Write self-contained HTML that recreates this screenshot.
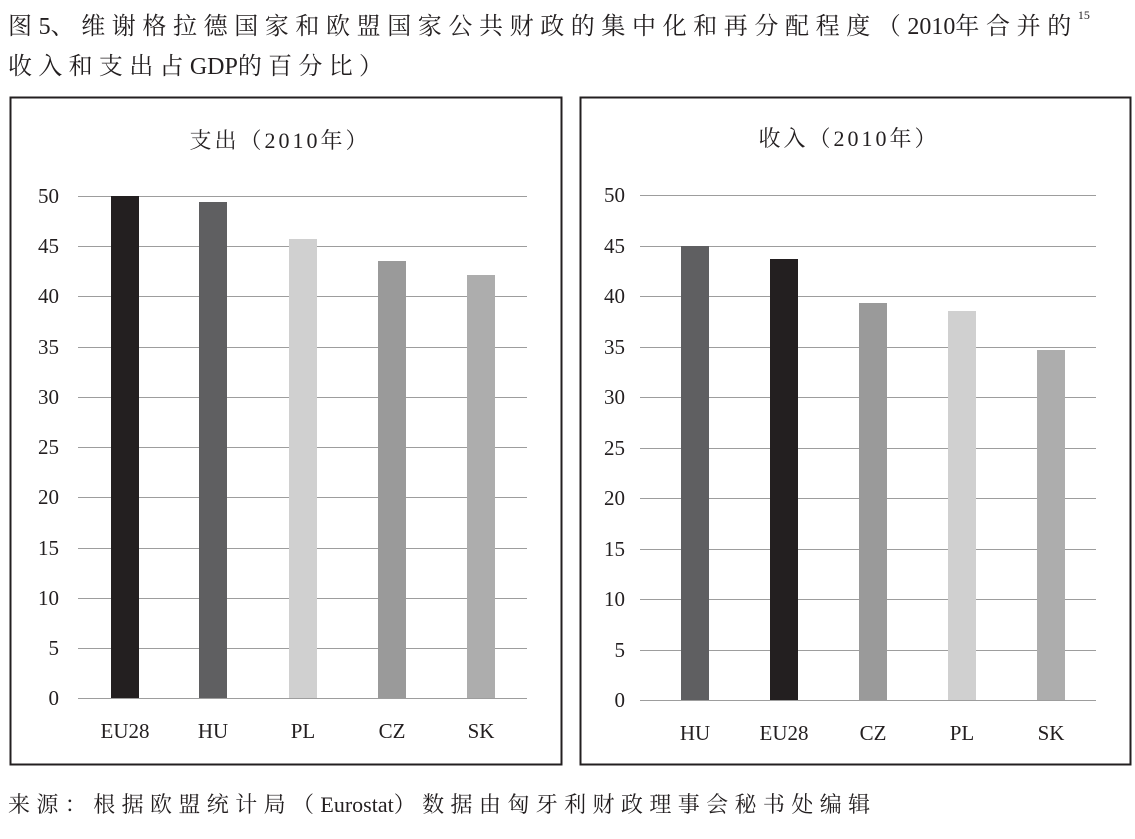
<!DOCTYPE html>
<html><head><meta charset="utf-8"><style>
body{margin:0;background:#fff;width:1135px;height:839px;overflow:hidden;font-family:"Liberation Serif","Noto Serif CJK SC",serif;color:#231f20}
.t{position:absolute;font-size:24px;white-space:nowrap}
.l{letter-spacing:0}
</style></head><body>
<div class="t" style="left:8px;top:6px;letter-spacing:6.6px">图<span class="l">5</span>、维谢格拉德国家和欧盟国家公共财政的集中化和再分配程度（<span class="l">2010</span>年合并的<sup style="font-size:12px;position:relative;top:-6px;letter-spacing:0">15</sup></div>
<div class="t" style="left:8px;top:46px;letter-spacing:6.3px">收入和支出占<span class="l">GDP</span>的百分比）</div>
<svg width="1135" height="839" style="position:absolute;left:0;top:0" font-family="Liberation Serif, Noto Serif CJK SC, serif" fill="#231f20">
<rect x="10.5" y="97.5" width="551" height="667" fill="none" stroke="#231f20" stroke-width="2"/>
<rect x="580.5" y="97.5" width="550" height="667" fill="none" stroke="#231f20" stroke-width="2"/>
<text x="280" y="148" font-size="22" text-anchor="middle" letter-spacing="3">支出（2010年）</text>
<text x="849" y="146" font-size="22" text-anchor="middle" letter-spacing="3">收入（2010年）</text>
<g stroke="#9d9d9d" stroke-width="1">
<line x1="78" x2="527" y1="196.5" y2="196.5"/><line x1="78" x2="527" y1="246.5" y2="246.5"/><line x1="78" x2="527" y1="296.5" y2="296.5"/><line x1="78" x2="527" y1="347.5" y2="347.5"/><line x1="78" x2="527" y1="397.5" y2="397.5"/><line x1="78" x2="527" y1="447.5" y2="447.5"/><line x1="78" x2="527" y1="497.5" y2="497.5"/><line x1="78" x2="527" y1="548.5" y2="548.5"/><line x1="78" x2="527" y1="598.5" y2="598.5"/><line x1="78" x2="527" y1="648.5" y2="648.5"/><line x1="78" x2="527" y1="698.5" y2="698.5"/>
<line x1="640" x2="1096" y1="195.5" y2="195.5"/><line x1="640" x2="1096" y1="246.5" y2="246.5"/><line x1="640" x2="1096" y1="296.5" y2="296.5"/><line x1="640" x2="1096" y1="347.5" y2="347.5"/><line x1="640" x2="1096" y1="397.5" y2="397.5"/><line x1="640" x2="1096" y1="448.5" y2="448.5"/><line x1="640" x2="1096" y1="498.5" y2="498.5"/><line x1="640" x2="1096" y1="549.5" y2="549.5"/><line x1="640" x2="1096" y1="599.5" y2="599.5"/><line x1="640" x2="1096" y1="650.5" y2="650.5"/><line x1="640" x2="1096" y1="700.5" y2="700.5"/>
</g>
<g font-size="21" text-anchor="end">
<text x="59" y="203">50</text><text x="59" y="253">45</text><text x="59" y="303">40</text><text x="59" y="354">35</text><text x="59" y="404">30</text><text x="59" y="454">25</text><text x="59" y="504">20</text><text x="59" y="555">15</text><text x="59" y="605">10</text><text x="59" y="655">5</text><text x="59" y="705">0</text>
<text x="625" y="202">50</text><text x="625" y="253">45</text><text x="625" y="303">40</text><text x="625" y="354">35</text><text x="625" y="404">30</text><text x="625" y="455">25</text><text x="625" y="505">20</text><text x="625" y="556">15</text><text x="625" y="606">10</text><text x="625" y="657">5</text><text x="625" y="707">0</text>
</g>
<rect x="111" y="196" width="28" height="502" fill="#231f20"/>
<rect x="199" y="202" width="28" height="496" fill="#5f5f61"/>
<rect x="289" y="239" width="28" height="459" fill="#d0d0d0"/>
<rect x="378" y="261" width="28" height="437" fill="#9a9a9a"/>
<rect x="467" y="275" width="28" height="423" fill="#adadad"/>
<rect x="681" y="246" width="28" height="454" fill="#5f5f61"/>
<rect x="770" y="259" width="28" height="441" fill="#231f20"/>
<rect x="859" y="303" width="28" height="397" fill="#9a9a9a"/>
<rect x="948" y="311" width="28" height="389" fill="#d0d0d0"/>
<rect x="1037" y="350" width="28" height="350" fill="#adadad"/>
<g font-size="21" text-anchor="middle">
<text x="125" y="738">EU28</text><text x="213" y="738">HU</text><text x="303" y="738">PL</text><text x="392" y="738">CZ</text><text x="481" y="738">SK</text>
<text x="695" y="740">HU</text><text x="784" y="740">EU28</text><text x="873" y="740">CZ</text><text x="962" y="740">PL</text><text x="1051" y="740">SK</text>
</g>
</svg>
<div class="t" style="left:8px;top:788px;font-size:22px;letter-spacing:6.4px">来源：根据欧盟统计局（<span class="l">Eurostat</span>）数据由匈牙利财政理事会秘书处编辑</div>
</body></html>
